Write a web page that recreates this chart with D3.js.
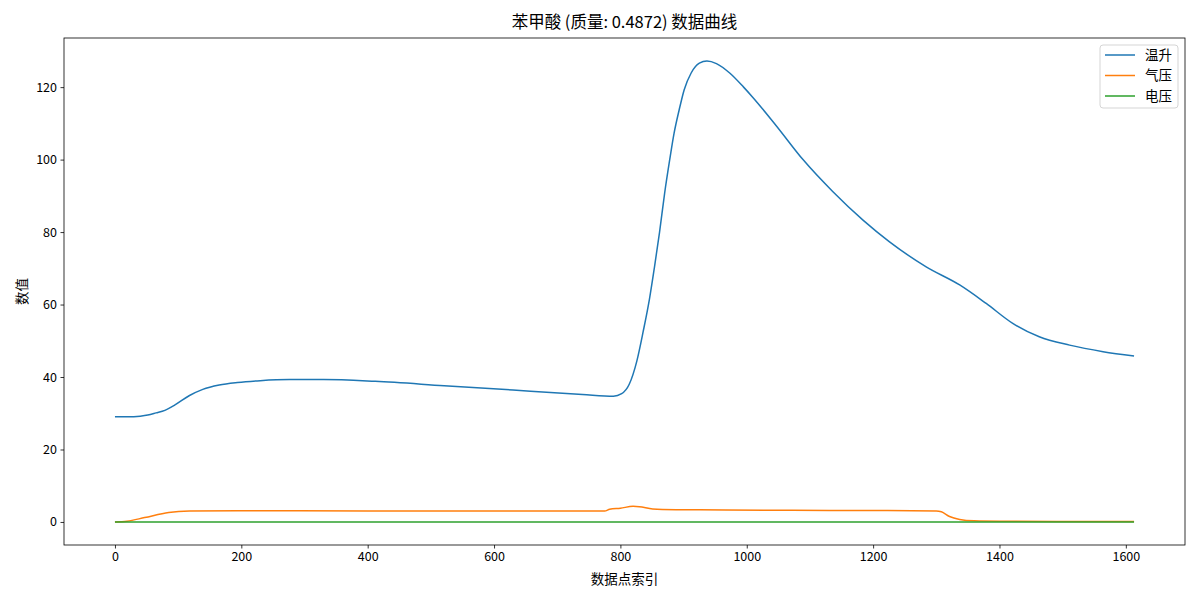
<!DOCTYPE html>
<html>
<head>
<meta charset="utf-8">
<script src="https://cdn.jsdelivr.net/npm/d3@7"></script>
<style>
  body { margin: 0; background: #fff; }
  text { font-family: "Noto Sans CJK SC", "DejaVu Sans", sans-serif; fill: #000; }
  .tick text { font-size: 12.5px; }
  .label { font-size: 13.5px; }
  .title { font-size: 16.5px; }
</style>
</head>
<body>
<div id="wrapper"></div>
<script>
'use strict';

//#region DATASET
const seriesNames = ['温升', '气压', '电压'];
const seriesColors = ['#1f77b4', '#ff7f0e', '#2ca02c'];

const tempIndex = [0, 20, 40, 52, 65, 79, 95, 118, 139, 165, 194, 230, 276, 330, 412, 521, 630, 740, 789, 802, 814,
  826, 836, 846, 854, 862, 870, 878, 885, 893, 901, 912, 925, 937, 952, 973, 995, 1009, 1046, 1089, 1136, 1184, 1226,
  1284, 1337, 1379, 1421, 1463, 1511, 1564, 1613];
const tempValues = [29.0, 29.0, 29.2, 29.5, 30.1, 30.8, 32.3, 34.9, 36.6, 37.8, 38.5, 39.0, 39.3, 39.3, 38.8, 37.6, 36.4, 35.2, 34.7, 35.4, 38.0,
  44.4, 52.5, 61.5, 70.4, 80.0, 90.7, 99.9, 107.3, 113.7, 119.3, 123.9, 126.6, 127.2, 126.5, 123.9, 120.0, 117.3, 109.5, 100.0, 91.2, 83.3, 77.3,
  70.4, 65.4, 60.3, 54.8, 51.1, 48.8, 47.0, 45.8];

const pressureIndex = [0, 19, 47, 85, 118, 194, 400, 600, 775, 783, 800, 820, 830, 851, 888, 967, 1072, 1210, 1300,
  1308, 1321, 1337, 1360, 1400, 1500, 1613];
const pressureValues = [0, 0.2, 1.2, 2.6, 3.0, 3.1, 3.05, 3.0, 3.0, 3.5, 3.8, 4.3, 4.2, 3.6, 3.4, 3.3, 3.2, 3.15, 3.05,
  2.8, 1.5, 0.7, 0.3, 0.18, 0.12, 0.1];

const voltageIndex = [0, 400, 800, 1200, 1613];
const voltageValues = [0, 0, 0, 0, 0];

const xTicks = [0, 200, 400, 600, 800, 1000, 1200, 1400, 1600];
const yTicks = [0, 20, 40, 60, 80, 100, 120];
//#endregion DATASET

function drawChart () {
  //#region CHART DIMENSIONS
  const dimensions = {
    width: 1200,
    height: 600,
    margin: { top: 38, right: 15, bottom: 55, left: 64 }
  };
  dimensions.plotWidth = dimensions.width - dimensions.margin.left - dimensions.margin.right;
  dimensions.plotHeight = dimensions.height - dimensions.margin.top - dimensions.margin.bottom;
  //#endregion CHART DIMENSIONS

  const series = [
    { name: seriesNames[0], color: seriesColors[0], points: tempIndex.map((x, i) => [x, tempValues[i]]) },
    { name: seriesNames[1], color: seriesColors[1], points: pressureIndex.map((x, i) => [x, pressureValues[i]]) },
    { name: seriesNames[2], color: seriesColors[2], points: voltageIndex.map((x, i) => [x, voltageValues[i]]) }
  ];

  //#region DRAW CANVAS
  const wrapper = d3.select('#wrapper').append('svg')
    .attr('width', dimensions.width)
    .attr('height', dimensions.height);

  const plot = wrapper.append('g')
    .attr('transform', `translate(${dimensions.margin.left},${dimensions.margin.top})`);
  //#endregion DRAW CANVAS

  //#region CREATE SCALES
  // matplotlib style 5% padding round the data
  const allX = series.flatMap(s => s.points.map(p => p[0]));
  const allY = series.flatMap(s => s.points.map(p => p[1]));
  const [x0, x1] = d3.extent(allX);
  const [y0, y1] = d3.extent(allY);
  const xPad = (x1 - x0) * 0.05;
  const yPad = (y1 - y0) * 0.05;

  const xScale = d3.scaleLinear()
    .domain([x0 - xPad, x1 + xPad])
    .range([0, dimensions.plotWidth]);

  const yScale = d3.scaleLinear()
    .domain([y0 - yPad, y1 + yPad])
    .range([dimensions.plotHeight, 0]);
  //#endregion CREATE SCALES

  //#region DRAW DATA
  const lineGenerator = d3.line()
    .x(d => xScale(d[0]))
    .y(d => yScale(d[1]))
    .curve(d3.curveMonotoneX);

  plot.append('g').selectAll('path').data(series)
    .enter()
    .append('path')
    .attr('d', d => lineGenerator(d.points))
    .attr('fill', 'none')
    .attr('stroke', d => d.color)
    .attr('stroke-width', 1.5)
    .attr('stroke-linejoin', 'round');
  //#endregion DRAW DATA

  //#region DRAW PERIPHERALS
  const xAxis = plot.append('g')
    .attr('transform', `translate(0,${dimensions.plotHeight})`)
    .call(d3.axisBottom(xScale).tickValues(xTicks).tickSize(3.5).tickPadding(3.5).tickFormat(d3.format('d')));

  const yAxis = plot.append('g')
    .call(d3.axisLeft(yScale).tickValues(yTicks).tickSize(3.5).tickPadding(3.5).tickFormat(d3.format('d')));

  [xAxis, yAxis].forEach(axis => {
    axis.select('.domain').remove();
    axis.selectAll('.tick line').attr('stroke', '#000').attr('stroke-width', 0.8);
  });

  plot.append('rect')
    .attr('width', dimensions.plotWidth)
    .attr('height', dimensions.plotHeight)
    .attr('fill', 'none')
    .attr('stroke', '#000')
    .attr('stroke-width', 0.8);

  wrapper.append('text')
    .attr('class', 'title')
    .attr('x', dimensions.margin.left + dimensions.plotWidth / 2)
    .attr('y', 28)
    .attr('text-anchor', 'middle')
    .text('苯甲酸 (质量: 0.4872) 数据曲线');

  wrapper.append('text')
    .attr('class', 'label')
    .attr('x', dimensions.margin.left + dimensions.plotWidth / 2)
    .attr('y', 584)
    .attr('text-anchor', 'middle')
    .text('数据点索引');

  wrapper.append('text')
    .attr('class', 'label')
    .attr('transform', `translate(27,${dimensions.margin.top + dimensions.plotHeight / 2}) rotate(-90)`)
    .attr('text-anchor', 'middle')
    .text('数值');

  // legend, upper right
  const legend = plot.append('g')
    .attr('transform', `translate(${dimensions.plotWidth - 85},7)`);

  legend.append('rect')
    .attr('width', 78)
    .attr('height', 63)
    .attr('rx', 3)
    .attr('fill', 'rgba(255,255,255,0.8)')
    .attr('stroke', '#d5d5d5')
    .attr('stroke-width', 1);

  const legendRows = legend.selectAll('g.row').data(series)
    .enter()
    .append('g')
    .attr('class', 'row')
    .attr('transform', (d, i) => `translate(0,${10 + i * 20.5})`);

  legendRows.append('line')
    .attr('x1', 5)
    .attr('x2', 35)
    .attr('stroke', d => d.color)
    .attr('stroke-width', 1.5);

  legendRows.append('text')
    .attr('class', 'label')
    .attr('x', 45)
    .attr('dy', '0.35em')
    .text(d => d.name);
  //#endregion DRAW PERIPHERALS
}

drawChart();
</script>
</body>
</html>
